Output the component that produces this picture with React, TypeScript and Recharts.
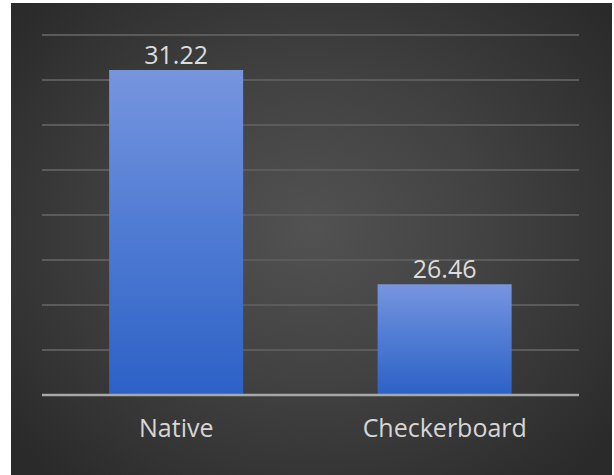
import React from 'react';
import { BarChart, Bar, XAxis, YAxis, CartesianGrid, LabelList } from 'recharts';

// Frame rate by rendering mode
const modes = ['Native', 'Checkerboard'];
const fps = [31.22, 26.46];
const yTicks = [24, 25, 26, 27, 28, 29, 30, 31, 32];

const data = modes.map((mode, i) => ({ mode, fps: fps[i] }));

const FONT = '"Open Sans", sans-serif';

export default function App() {
  return (
    <div
      style={{
        position: 'fixed',
        left: 0,
        top: 0,
        width: 614,
        height: 475,
        background: '#ffffff',
        overflow: 'hidden',
      }}
    >
      <div
        style={{
          position: 'absolute',
          left: 11,
          top: 3,
          width: 601,
          height: 472,
          background:
            'radial-gradient(ellipse 65% 70% at 50% 48%, #525252 0%, #424242 45%, #2a2a2a 100%)',
        }}
      >
        <BarChart
          width={601}
          height={472}
          data={data}
          margin={{ top: 32, right: 33, bottom: 20, left: 31 }}
          barCategoryGap="25%"
        >
          <defs>
            <linearGradient id="barFill" x1="0" y1="0" x2="0" y2="1">
              <stop offset="0%" stopColor="#7795df" />
              <stop offset="50%" stopColor="#4f7bd3" />
              <stop offset="100%" stopColor="#2d61c6" />
            </linearGradient>
          </defs>
          <CartesianGrid vertical={false} stroke="#5b5b5b" strokeWidth={2} />
          <YAxis hide domain={[24, 32]} ticks={yTicks} />
          <XAxis
            dataKey="mode"
            height={60}
            axisLine={{ stroke: '#a8a8a8', strokeWidth: 2.5 }}
            tickLine={false}
            tickSize={6}
            tickMargin={18}
            tick={{ fill: '#d6d6d6', fontSize: 25, fontFamily: FONT }}
          />
          <Bar dataKey="fps" fill="url(#barFill)" isAnimationActive={false}>
            <LabelList
              dataKey="fps"
              position="top"
              offset={6}
              formatter={(v: number) => v.toFixed(2)}
              style={{ fill: '#dcdcdc', fontSize: 25, fontFamily: FONT }}
            />
          </Bar>
        </BarChart>
      </div>
    </div>
  );
}
